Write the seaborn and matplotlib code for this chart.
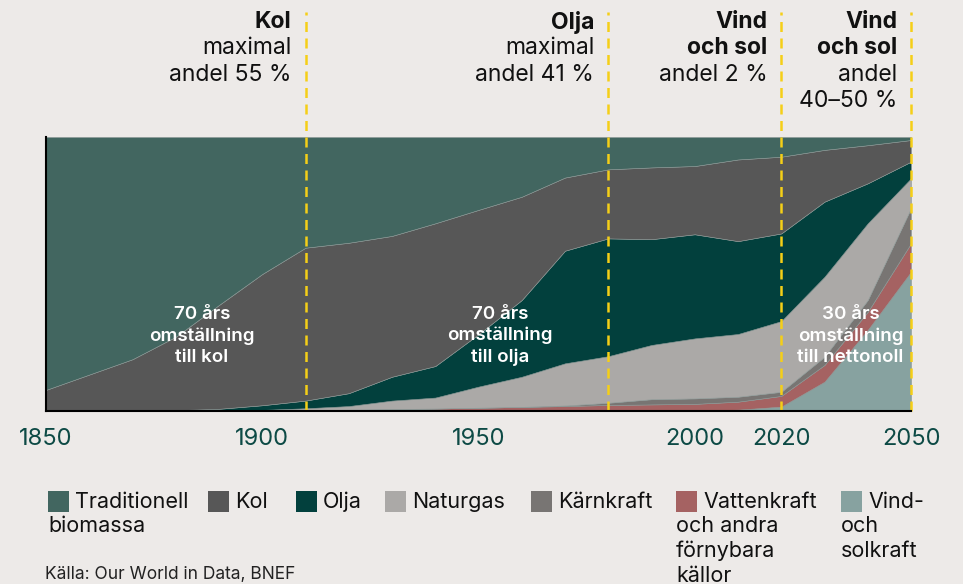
import matplotlib
matplotlib.use("Agg")
import matplotlib.pyplot as plt
from matplotlib.patches import Rectangle
import seaborn as sns

# ─── Data (share of global energy, %) ─────────────────────────────────────────
years = [1850, 1860, 1870, 1880, 1890, 1900, 1910, 1920, 1930, 1940, 1950,
         1960, 1970, 1980, 1990, 2000, 2010, 2020, 2030, 2040, 2050]

vind_sol   = [0, 0, 0, 0, 0, 0, 0, 0, 0, 0, 0,
              0, 0, 0, 0, 0.1, 0.5, 1.6, 10.7, 29.6, 50.8]
vattenkraft = [0, 0, 0, 0, 0.1, 0.2, 0.3, 0.5, 0.7, 0.9, 1.2,
               1.5, 1.8, 2.2, 2.4, 2.5, 2.9, 3.9, 6.1, 6.6, 10.4]
karnkraft  = [0, 0, 0, 0, 0, 0, 0, 0, 0, 0, 0,
              0, 0.2, 0.8, 1.9, 2.0, 1.8, 1.5, 3.0, 4.3, 12.8]
naturgas   = [0, 0, 0, 0, 0, 0.2, 0.7, 1.3, 3.1, 4.0, 7.7,
              11.0, 15.4, 17.0, 19.8, 21.9, 22.9, 25.8, 29.2, 28.0, 10.9]
olja       = [0, 0, 0, 0.3, 0.7, 1.7, 2.8, 4.7, 8.7, 11.5, 19.1,
              28.0, 41.1, 43.0, 38.6, 38.0, 33.9, 32.0, 27.4, 14.6, 6.1]
kol        = [7.7, 13.3, 18.9, 26.8, 37.9, 47.9, 55.8, 54.9, 51.4, 52.1, 45.4,
              37.7, 26.7, 25.2, 26.2, 24.9, 29.8, 28.0, 18.9, 13.9, 7.9]
biomassa   = [92.3, 86.7, 81.1, 72.9, 61.3, 50.0, 40.4, 38.6, 36.1, 31.5, 26.6,
              21.8, 14.8, 11.8, 11.1, 10.6, 8.2, 7.2, 4.7, 3.0, 1.1]

series = [vind_sol, vattenkraft, karnkraft, naturgas, olja, kol, biomassa]
colors = ["#87a2a0", "#a56262", "#787573", "#aba9a7", "#02403d", "#575757", "#426660"]

legend_labels = [("Traditionell", "biomassa"), ("Kol",), ("Olja",), ("Naturgas",),
                 ("Kärnkraft",), ("Vattenkraft", "och andra", "förnybara", "källor"),
                 ("Vind-", "och", "solkraft")]
legend_colors = ["#426660", "#575757", "#02403d", "#aba9a7", "#787573", "#a56262", "#87a2a0"]
legend_x = [48, 208, 296, 385, 531, 676, 841]

tick_years = [1850, 1900, 1950, 2000, 2020, 2050]
marker_years = [1910, 1980, 2020, 2050]
marker_titles = [["Kol"], ["Olja"], ["Vind", "och sol"], ["Vind", "och sol"]]
marker_texts = [["maximal", "andel 55 %"], ["maximal", "andel 41 %"],
                ["andel 2 %"], ["andel", "40–50 %"]]

inner_labels = ["70 års\nomställning\ntill kol", "70 års\nomställning\ntill olja",
                "30 års\nomställning\ntill nettonoll"]
inner_x = [1886, 1955, 2036]

# ─── Style ───────────────────────────────────────────────────────────────────
BG = "#edeae8"
TEAL_TXT = "#0d4a45"
YELLOW = "#f5cf17"

sns.set_theme(style="white")
plt.rcParams["font.family"] = ["Inter", "DejaVu Sans"]

W, H = 963, 584
fig = plt.figure(figsize=(W / 100, H / 100), dpi=100, facecolor=BG)
ax = fig.add_axes([46 / W, 1 - 411 / H, (911 - 46) / W, (411 - 137) / H])
ax.set_facecolor(BG)

ax.stackplot(years, *series, colors=colors, edgecolor="#8c9896", linewidth=0.4)

ax.set_xlim(1850, 2050)
ax.set_ylim(0, 100)
ax.set_yticks([])
ax.set_xticks(tick_years)
ax.set_xticklabels([str(y) for y in tick_years], fontsize=17, color=TEAL_TXT)
ax.tick_params(axis="x", length=4, width=1, color="#7a8a8a", pad=8)

for side in ["top", "right"]:
    ax.spines[side].set_visible(False)
for side in ["left", "bottom"]:
    ax.spines[side].set_color("black")
    ax.spines[side].set_linewidth(1.5)
    ax.spines[side].set_zorder(5)

# ─── Dashed markers and annotations ──────────────────────────────────────────
ytop = (411 - 12) / (411 - 137)
for yr, title, txt in zip(marker_years, marker_titles, marker_texts):
    ax.axvline(yr, ymin=0, ymax=ytop, color=YELLOW, linestyle=(0, (4, 2.6)),
               linewidth=1.8, clip_on=False, zorder=4)
    xf = ax.transData.transform((yr, 0))[0] - 14
    xfig = xf / W
    line_h = 26.5
    y0 = 22
    for i, t in enumerate(title + txt):
        fig.text(xfig, 1 - (y0 + i * line_h) / H, t, ha="right", va="center",
                 fontsize=16.5, color="#111111",
                 fontweight="bold" if i < len(title) else "normal")

for x, t in zip(inner_x, inner_labels):
    ax.text(x, 27.4, t, ha="center", va="center", color="white", fontsize=13.5,
            fontweight="semibold", linespacing=1.3)

# ─── Manual legend ───────────────────────────────────────────────────────────
sq = 21
for x, lab, c in zip(legend_x, legend_labels, legend_colors):
    fig.add_artist(Rectangle((x / W, 1 - 512 / H), sq / W, sq / H,
                             transform=fig.transFigure, facecolor=c, edgecolor="none"))
    for i, t in enumerate(lab):
        tx = x + sq + 6 if i == 0 else x
        fig.text(tx / W, 1 - (502 + i * 24.5) / H, t, ha="left", va="center",
                 fontsize=15.5, color="#111111")

fig.text(45 / W, 1 - 566 / H, "Källa: Our World in Data, BNEF", ha="left", va="top",
         fontsize=12.5, color="#222222")

fig.savefig("out.png", dpi=100, facecolor=BG)
